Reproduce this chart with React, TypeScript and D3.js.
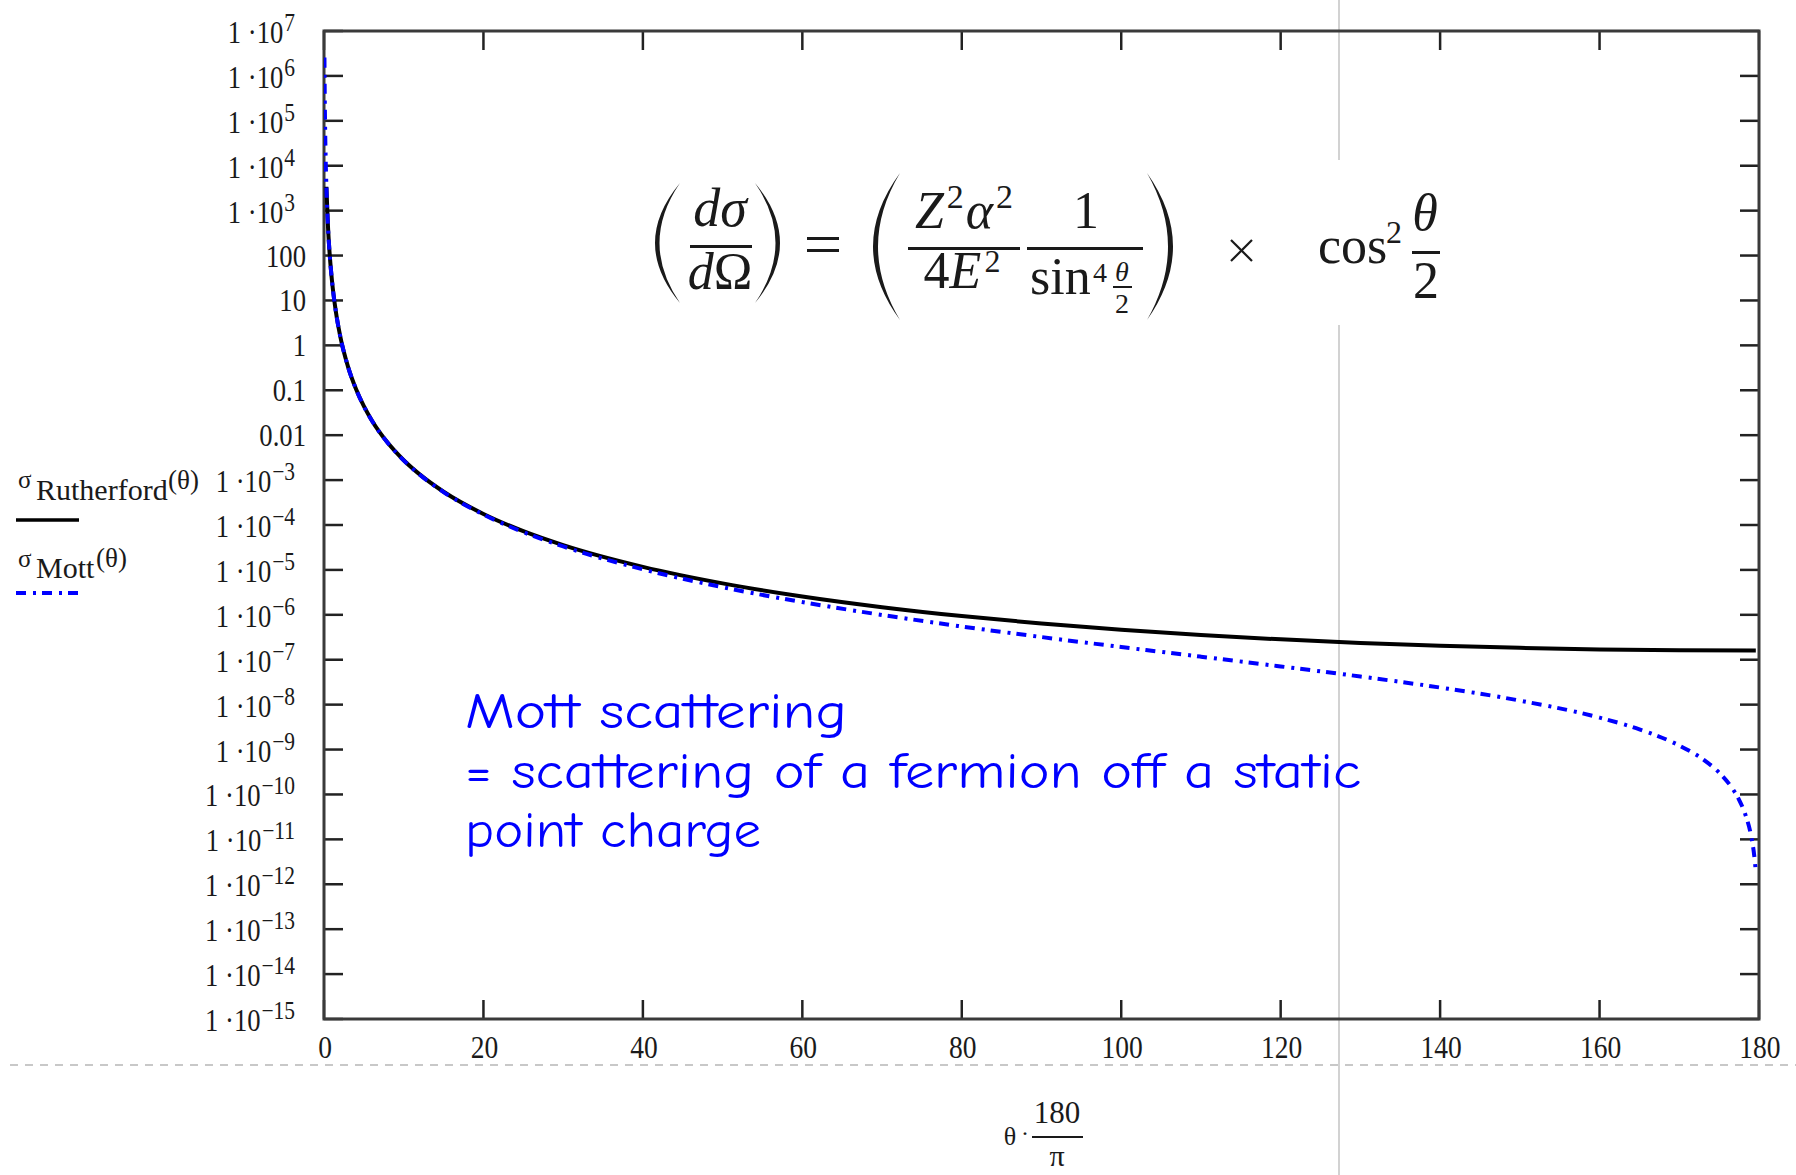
import React from 'react';
import * as d3 from 'd3';

// Scattering angle in degrees and differential cross sections (arbitrary units)
const rutherfordTheta = [
  0.3, 0.5, 0.75, 1, 1.5, 2, 3, 4, 5, 6, 8, 10, 12, 15, 20, 25, 30, 40, 50, 60,
  70, 80, 90, 100, 110, 120, 130, 140, 150, 160, 170, 179.6,
];
const rutherfordSigma = [
  3.4e3, 441, 87, 27.6, 5.45, 1.72, 0.341, 0.108, 0.0442, 0.0213, 6.76e-3, 2.77e-3,
  1.34e-3, 5.51e-4, 1.76e-4, 7.29e-5, 3.57e-5, 1.17e-5, 5.02e-6, 2.56e-6, 1.48e-6,
  9.37e-7, 6.4e-7, 4.65e-7, 3.55e-7, 2.84e-7, 2.37e-7, 2.05e-7, 1.84e-7, 1.7e-7,
  1.62e-7, 1.6e-7,
];

const mottTheta = [
  0.0573, 0.1, 0.15, 0.2, 0.3, 0.5, 0.75, 1, 1.5, 2, 3, 4, 5, 6, 8, 10, 12, 15, 20,
  25, 30, 40, 50, 60, 70, 80, 90, 100, 110, 120, 130, 140, 150, 160, 165, 170, 173,
  175, 176.5, 177.5, 178.3, 179, 179.4, 179.6,
];
const mottSigma = [
  2.56e6, 2.76e5, 5.45e4, 1.72e4, 3.41e3, 441, 87.2, 27.6, 5.45, 1.72, 0.341, 0.108,
  0.0441, 0.0212, 6.73e-3, 2.75e-3, 1.325e-3, 5.42e-4, 1.71e-4, 6.95e-5, 3.33e-5,
  1.03e-5, 4.12e-6, 1.92e-6, 9.93e-7, 5.5e-7, 3.2e-7, 1.92e-7, 1.17e-7, 7.1e-8,
  4.23e-8, 2.4e-8, 1.23e-8, 5.13e-9, 2.82e-9, 1.23e-9, 6.01e-10, 3.06e-10, 1.49e-10,
  7.62e-11, 3.52e-11, 1.22e-11, 4.39e-12, 1.95e-12,
];

// Axis ticks
const xTickValues = [0, 20, 40, 60, 80, 100, 120, 140, 160, 180];
const yTickExponents = [
  7, 6, 5, 4, 3, 2, 1, 0, -1, -2, -3, -4, -5, -6, -7, -8, -9, -10, -11, -12, -13, -14, -15,
];
const yPlainLabels = ['100', '10', '1', '0.1', '0.01'];
const yPlainExponents = [2, 1, 0, -1, -2];

const mottNote = [
  'Mott scattering',
  '= scattering of a fermion off a static',
  'point charge',
];

const W = 1796;
const H = 1175;
const box = { left: 324, right: 1759, top: 31, bottom: 1019 };
const SERIF = "'Liberation Serif', 'Times New Roman', serif";
const MOTT_DASH = '10 7 3 6';

// Curved parenthesis drawn as a tapered crescent
function paren(xEnd: number, xMid: number, yTop: number, yBot: number, thick: number) {
  const ym = (yTop + yBot) / 2;
  const c1 = 2 * xMid - xEnd;
  const dir = xMid < xEnd ? 1 : -1;
  const c2 = 2 * (xMid + dir * thick) - xEnd;
  return `M${xEnd},${yTop} Q${c1},${ym} ${xEnd},${yBot} Q${c2},${ym} ${xEnd},${yTop} Z`;
}

export default function App() {
  const x = d3.scaleLinear().domain([0, 180]).range([box.left, box.right]);
  const y = d3.scaleLog().domain([1e-15, 1e7]).range([box.bottom, box.top]);

  const line = d3
    .line<[number, number]>()
    .x((d) => x(d[0]))
    .y((d) => y(d[1]))
    .curve(d3.curveMonotoneX);

  const rPath = line(rutherfordTheta.map((t, i) => [t, rutherfordSigma[i]] as [number, number])) || '';
  const mPath = line(mottTheta.map((t, i) => [t, mottSigma[i]] as [number, number])) || '';

  const tickLen = 19;
  const noteX = 465;
  const noteBaselines = [728, 788, 847];
  const noteWidths = [382, 896, 296];

  return (
    <svg
      width={W}
      height={H}
      viewBox={`0 0 ${W} ${H}`}
      style={{ position: 'absolute', left: 0, top: 0, display: 'block' }}
      fontFamily={SERIF}
    >
      <rect x={0} y={0} width={W} height={H} fill="#ffffff" />
      <defs>
        <clipPath id="plotClip">
          <rect x={box.left} y={box.top - 4} width={box.right - box.left} height={box.bottom - box.top + 4} />
        </clipPath>
      </defs>

      {/* light guide lines */}
      <line x1={10} x2={W} y1={1065} y2={1065} stroke="#c8c8c8" strokeWidth={2} strokeDasharray="8 7" />
      <line x1={1339} x2={1339} y1={0} y2={160} stroke="#d2d2d2" strokeWidth={2} />
      <line x1={1339} x2={1339} y1={325} y2={H} stroke="#d2d2d2" strokeWidth={2} />

      {/* ticks */}
      <g stroke="#222" strokeWidth={2.5}>
        {yTickExponents.map((e) => {
          const yy = y(Math.pow(10, e));
          return (
            <g key={`yt${e}`}>
              <line x1={box.left} x2={box.left + tickLen} y1={yy} y2={yy} />
              <line x1={box.right - tickLen} x2={box.right} y1={yy} y2={yy} />
            </g>
          );
        })}
        {xTickValues.map((v) => {
          const xx = x(v);
          return (
            <g key={`xt${v}`}>
              <line x1={xx} x2={xx} y1={box.bottom} y2={box.bottom - tickLen} />
              <line x1={xx} x2={xx} y1={box.top} y2={box.top + tickLen} />
            </g>
          );
        })}
      </g>

      {/* frame */}
      <rect
        x={box.left}
        y={box.top}
        width={box.right - box.left}
        height={box.bottom - box.top}
        fill="none"
        stroke="#3a3a3a"
        strokeWidth={3}
      />

      {/* curves */}
      <g clipPath="url(#plotClip)" fill="none">
        <path d={rPath} stroke="#000" strokeWidth={4} strokeLinejoin="round" />
        <path d={mPath} stroke="#0000ff" strokeWidth={4} strokeDasharray={MOTT_DASH} />
      </g>

      {/* y tick labels */}
      <g fill="#1a1a1a">
        {yTickExponents.map((e) => {
          const yy = y(Math.pow(10, e));
          const pi = yPlainExponents.indexOf(e);
          if (pi >= 0) {
            return (
              <text key={`yl${e}`} transform={`translate(306,${yy + 11}) scale(0.86,1)`} textAnchor="end" fontSize={31}>
                {yPlainLabels[pi]}
              </text>
            );
          }
          const exp = e < 0 ? `\u2212${-e}` : `${e}`;
          return (
            <text key={`yl${e}`} transform={`translate(295,${yy + 12}) scale(0.86,1)`} textAnchor="end" fontSize={31}>
              {'1 \u00b710'}
              <tspan fontSize={25} dx={1} dy={-12}>
                {exp}
              </tspan>
            </text>
          );
        })}
      </g>

      {/* x tick labels */}
      <g fill="#1a1a1a">
        {xTickValues.map((v) => (
          <text key={`xl${v}`} transform={`translate(${x(v) + 1},1058) scale(0.86,1)`} textAnchor="middle" fontSize={32}>
            {v}
          </text>
        ))}
      </g>

      {/* x axis title: θ·180/π */}
      <g fill="#1a1a1a">
        <text x={1010} y={1145} textAnchor="middle" fontSize={26}>θ</text>
        <text x={1025} y={1141} textAnchor="middle" fontSize={24}>·</text>
        <text x={1057} y={1123} textAnchor="middle" fontSize={31}>180</text>
        <line x1={1032} x2={1083} y1={1137} y2={1137} stroke="#1a1a1a" strokeWidth={2} />
        <text x={1057} y={1166} textAnchor="middle" fontSize={30}>π</text>
      </g>

      {/* legend */}
      <g fill="#1a1a1a">
        <text x={18} y={488} fontSize={25}>σ</text>
        <text x={36} y={500} fontSize={30}>Rutherford</text>
        <text x={168} y={489} fontSize={27}>(θ)</text>
        <line x1={16} x2={79} y1={520} y2={520} stroke="#000" strokeWidth={3.5} />
        <text x={18} y={567} fontSize={25}>σ</text>
        <text x={36} y={578} fontSize={30}>Mott</text>
        <text x={96} y={567} fontSize={27}>(θ)</text>
        <line x1={16} x2={78} y1={593} y2={593} stroke="#0000ff" strokeWidth={4} strokeDasharray={MOTT_DASH} />
      </g>

      {/* annotation */}
      <g fill="#0000ff" fontFamily="'Comic Sans MS', 'Comic Neue', Lato, sans-serif" fontSize={50}>
        {mottNote.map((s, i) => (
          <text key={s} x={noteX} y={noteBaselines[i]} textLength={noteWidths[i]} lengthAdjust="spacingAndGlyphs">
            {s}
          </text>
        ))}
      </g>

      {/* cross section formula */}
      <g fill="#1a1a1a" stroke="none">
        <path d={paren(680, 655, 183, 303, 4.5)} />
        <text x={720} y={226} textAnchor="middle" fontSize={54} fontStyle="italic">dσ</text>
        <rect x={690} y={245} width={62} height={3} />
        <text x={720} y={289} textAnchor="middle" fontSize={52}>
          <tspan fontStyle="italic">d</tspan>Ω
        </text>
        <path d={paren(755, 780, 183, 303, 4.5)} />

        <rect x={807} y={237} width={32} height={3} />
        <rect x={807} y={249} width={32} height={3} />

        <path d={paren(900, 873, 173, 320, 5)} />
        <text x={964} y={228} textAnchor="middle" fontSize={52}>
          <tspan fontStyle="italic">Z</tspan>
          <tspan fontSize={34} dx={3} dy={-20}>2</tspan>
          <tspan fontStyle="italic" dx={2} dy={20}>α</tspan>
          <tspan fontSize={34} dx={3} dy={-20}>2</tspan>
        </text>
        <rect x={908} y={247} width={112} height={3} />
        <text x={962} y={288} textAnchor="middle" fontSize={52}>
          4<tspan fontStyle="italic">E</tspan>
          <tspan fontSize={32} dx={3} dy={-16}>2</tspan>
        </text>

        <text x={1086} y={228} textAnchor="middle" fontSize={52}>1</text>
        <rect x={1027} y={247} width={116} height={3} />
        <text x={1030} y={294} fontSize={52}>sin</text>
        <text x={1093} y={282} fontSize={28}>4</text>
        <text x={1122} y={281} textAnchor="middle" fontSize={28} fontStyle="italic">θ</text>
        <rect x={1113} y={286} width={19} height={2} />
        <text x={1122} y={313} textAnchor="middle" fontSize={28}>2</text>
        <path d={paren(1147, 1173, 173, 320, 5)} />

        <line x1={1231} y1={240} x2={1252} y2={261} stroke="#1a1a1a" strokeWidth={2.2} />
        <line x1={1252} y1={240} x2={1231} y2={261} stroke="#1a1a1a" strokeWidth={2.2} />

        <text x={1318} y={263} fontSize={52}>cos</text>
        <text x={1386} y={243} fontSize={32}>2</text>
        <text x={1425} y={230} textAnchor="middle" fontSize={52} fontStyle="italic">θ</text>
        <rect x={1412} y={251} width={28} height={3} />
        <text x={1426} y={298} textAnchor="middle" fontSize={52}>2</text>
      </g>
    </svg>
  );
}
